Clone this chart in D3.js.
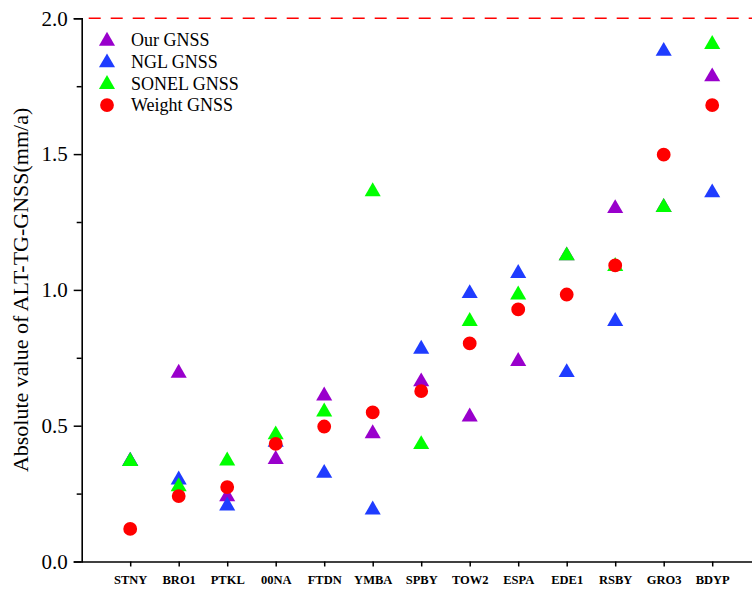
<!DOCTYPE html>
<html>
<head>
<meta charset="utf-8">
<script src="https://cdn.jsdelivr.net/npm/d3@7"></script>
<style>
  html, body { margin: 0; padding: 0; background: #fff; }
  svg { display: block; }
</style>
</head>
<body>
<svg id="chart" width="752" height="590"></svg>
<script>
const categories = ["STNY","BRO1","PTKL","00NA","FTDN","YMBA","SPBY","TOW2","ESPA","EDE1","RSBY","GRO3","BDYP"];
const ourGNSS    = [0.370, 0.694, 0.239, 0.376, 0.610, 0.471, 0.662, 0.533, 0.737, 1.126, 1.300, 1.304, 1.785];
const nglGNSS    = [0.369, 0.301, 0.205, 0.440, 0.325, 0.190, 0.782, 0.987, 1.061, 0.696, 0.884, 1.879, 1.358];
const sonelGNSS  = [0.369, 0.276, 0.371, 0.467, 0.551, 1.362, 0.431, 0.884, 0.982, 1.126, 1.087, 1.304, 1.904];
const weightGNSS = [0.120, 0.241, 0.274, 0.433, 0.497, 0.549, 0.627, 0.803, 0.928, 0.983, 1.090, 1.498, 1.680];
const seriesNames = ["Our GNSS", "NGL GNSS", "SONEL GNSS", "Weight GNSS"];
const yMajorTicks = [0.0, 0.5, 1.0, 1.5, 2.0];
const yMinorTicks = [0.25, 0.75, 1.25, 1.75];
const refLine = 2.0;

(function () {
const svg = d3.select("#chart");
const plotLeft = 81.7, plotBottom = 561.5, plotTop = 18.3;
const x = d3.scaleLinear().domain([0, categories.length + 1]).range([plotLeft, plotLeft + 48.5 * 14]);
const y = d3.scaleLinear().domain([0, 2]).range([plotBottom, plotTop]);

const series = [
  { name: seriesNames[0], values: ourGNSS,    color: "#9900cc", shape: d3.symbolTriangle, size: 112 },
  { name: seriesNames[1], values: nglGNSS,    color: "#1f3cff", shape: d3.symbolTriangle, size: 112 },
  { name: seriesNames[2], values: sonelGNSS,  color: "#00ff00", shape: d3.symbolTriangle, size: 112 },
  { name: seriesNames[3], values: weightGNSS, color: "#ff0000", shape: d3.symbolCircle,   size: 150 }
];

// Reference dashed line
svg.append("line")
  .attr("x1", x(0)).attr("x2", 752)
  .attr("y1", y(refLine)).attr("y2", y(refLine))
  .attr("stroke", "#ff0000").attr("stroke-width", 1.6)
  .attr("stroke-dasharray", "12,10").attr("stroke-dashoffset", -7);

// Y axis
const yAxis = d3.axisLeft(y).tickValues(yMajorTicks).tickFormat(d3.format(".1f")).tickSize(8).tickPadding(6);
const gy = svg.append("g").attr("transform", `translate(${plotLeft},0)`).call(yAxis);
gy.select(".domain").attr("stroke", "#000").attr("stroke-width", 1.6);
gy.selectAll(".tick line").attr("stroke", "#000").attr("stroke-width", 1.5);
gy.selectAll(".tick text").attr("font-family", "'Liberation Serif', 'Times New Roman', serif").attr("font-size", 21).attr("fill", "#000");
const gyMinor = svg.append("g").attr("transform", `translate(${plotLeft},0)`)
  .call(d3.axisLeft(y).tickValues(yMinorTicks).tickFormat("").tickSize(5));
gyMinor.select(".domain").remove();
gyMinor.selectAll(".tick line").attr("stroke", "#000").attr("stroke-width", 1.5);

// X axis
const xAxis = d3.axisBottom(x).tickValues(d3.range(1, categories.length + 1))
  .tickFormat(i => categories[i - 1]).tickSize(5).tickPadding(9).tickSizeOuter(0);
const gx = svg.append("g").attr("transform", `translate(0,${plotBottom})`).call(xAxis);
gx.select(".domain").attr("stroke", "#000").attr("stroke-width", 1.6);
gx.selectAll(".tick line").attr("stroke", "#000").attr("stroke-width", 1.5);
gx.selectAll(".tick text").attr("font-family", "'Liberation Serif', 'Times New Roman', serif")
  .attr("font-size", 12.5).attr("font-weight", "bold").attr("fill", "#000");

// Y title
svg.append("text")
  .attr("transform", `translate(28,${(plotTop + plotBottom) / 2}) rotate(-90)`)
  .attr("text-anchor", "middle")
  .attr("font-family", "'Liberation Serif', 'Times New Roman', serif")
  .attr("font-size", 22).attr("fill", "#000")
  .text("Absolute value of ALT-TG-GNSS(mm/a)");

// Points
series.forEach(s => {
  svg.append("g").selectAll("path").data(s.values).join("path")
    .attr("d", d3.symbol().type(s.shape).size(s.size))
    .attr("transform", (v, i) => `translate(${x(i + 1)},${y(v)})`)
    .attr("fill", s.color);
});

// Legend
const legend = svg.append("g");
series.forEach((s, i) => {
  const ly = 40 + i * 21.7;
  legend.append("path")
    .attr("d", d3.symbol().type(s.shape).size(s.size))
    .attr("transform", `translate(107,${ly + (s.shape === d3.symbolTriangle ? 1 : 0)})`)
    .attr("fill", s.color);
  legend.append("text")
    .attr("x", 131).attr("y", ly).attr("dy", "0.35em")
    .attr("font-family", "'Liberation Serif', 'Times New Roman', serif")
    .attr("font-size", 18).attr("fill", "#000")
    .text(s.name);
});
})();
</script>
</body>
</html>
